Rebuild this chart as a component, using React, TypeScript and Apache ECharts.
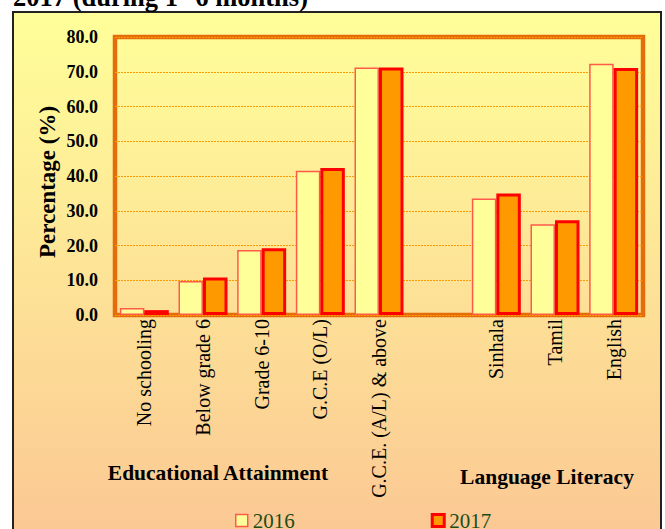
import React, { useEffect, useRef } from "react";
import * as echarts from "echarts";

const categories = [
  "No schooling",
  "Below grade 6",
  "Grade 6-10",
  "G.C.E (O/L)",
  "G.C.E. (A/L) & above",
  "",
  "Sinhala",
  "Tamil",
  "English",
];
const values2016 = [2.0, 9.8, 18.7, 41.5, 71.2, null, 33.5, 26.1, 72.3];
const values2017 = [1.4, 10.8, 19.2, 42.3, 71.2, null, 35.0, 27.3, 71.1];
const seriesNames = ["2016", "2017"];
const yTicks = { min: 0, max: 80, interval: 10 };
const titleText = "{a|2017 (during 1}{s|st}{a| 6 months)}";
const yTitle = "Percentage (%)";
const groupLabels = ["Educational Attainment", "Language Literacy"];

const SERIF = "'Liberation Serif', 'Times New Roman', serif";

export default function App() {
  const ref = useRef<HTMLDivElement>(null);
  useEffect(() => {
    if (!ref.current) return;
    const chart = echarts.init(ref.current, null, { renderer: "svg" });
    const style2016 = { color: "#FFFF99", borderColor: "#FF5A4A", borderWidth: 1.5 };
    const style2017 = { color: "#FF9900", borderColor: "#FF0000", borderWidth: 3 };
    chart.setOption({
      animation: false,
      grid: {
        left: 115,
        right: 22,
        top: 37,
        bottom: 214,
        show: true,
        borderColor: "#E46C0A",
        borderWidth: 4.5,
        backgroundColor: "transparent",
      },
      graphic: [
        {
          type: "rect",
          z: -10,
          silent: true,
          shape: { x: 13, y: 12, width: 648, height: 530 },
          style: {
            fill: new echarts.graphic.LinearGradient(0, 0, 0, 1, [
              { offset: 0, color: "#FFFF99" },
              { offset: 1, color: "#FBC794" },
            ]),
            stroke: "#222222",
            lineWidth: 2,
          },
        },
        {
          type: "text",
          x: 13,
          y: -2.8,
          style: {
            text: titleText,
            verticalAlign: "middle",
            align: "left",
            fill: "#000",
            rich: {
              a: { fontSize: 26.5, fontWeight: "bold", fontFamily: SERIF, fill: "#000" },
              s: { fontSize: 15, fontWeight: "bold", fontFamily: SERIF, fill: "#000", verticalAlign: "top" },
            },
          },
        },
        {
          type: "text",
          x: 47,
          y: 182,
          rotation: Math.PI / 2,
          style: {
            text: yTitle,
            align: "center",
            verticalAlign: "middle",
            fontSize: 23,
            fontWeight: "bold",
            fontFamily: SERIF,
            fill: "#000",
          },
        },
        {
          type: "text",
          x: 218,
          y: 473,
          style: {
            text: groupLabels[0],
            align: "center",
            verticalAlign: "middle",
            fontSize: 21.5,
            fontWeight: "bold",
            fontFamily: SERIF,
            fill: "#000",
          },
        },
        {
          type: "text",
          x: 547,
          y: 477,
          style: {
            text: groupLabels[1],
            align: "center",
            verticalAlign: "middle",
            fontSize: 21.5,
            fontWeight: "bold",
            fontFamily: SERIF,
            fill: "#000",
          },
        },
      ],
      legend: {
        left: 235,
        top: 510,
        padding: 0,
        itemGap: 136,
        itemWidth: 12,
        itemHeight: 12,
        icon: "rect",
        textStyle: { fontSize: 21, fontFamily: SERIF, color: "#1B4D1B", padding: [0, 0, 0, 0] },
        data: [
          { name: seriesNames[0], itemStyle: style2016 },
          { name: seriesNames[1], itemStyle: style2017 },
        ],
      },
      xAxis: {
        type: "category",
        data: categories,
        axisLine: { show: false },
        axisTick: { show: false },
        axisLabel: {
          interval: 0,
          rotate: 90,
          margin: 4,
          fontSize: 20,
          fontFamily: SERIF,
          color: "#000",
        },
      },
      yAxis: {
        type: "value",
        min: yTicks.min,
        max: yTicks.max,
        interval: yTicks.interval,
        axisLine: { show: false },
        axisTick: { show: false },
        axisLabel: {
          margin: 17,
          fontSize: 18,
          fontWeight: "bold",
          fontFamily: SERIF,
          color: "#000",
          formatter: (v: number) => v.toFixed(1),
        },
        splitLine: {
          show: true,
          lineStyle: { color: "#FF9900", width: 1, type: [2, 1] },
        },
      },
      series: [
        {
          name: seriesNames[0],
          type: "bar",
          data: values2016,
          barGap: "0%",
          barCategoryGap: "16.5%",
          itemStyle: style2016,
        },
        {
          name: seriesNames[1],
          type: "bar",
          data: values2017,
          barGap: "0%",
          barCategoryGap: "16.5%",
          itemStyle: style2017,
        },
      ],
    });
    return () => chart.dispose();
  }, []);
  return (
    <div
      ref={ref}
      style={{ position: "absolute", left: 0, top: 0, width: 665, height: 529 }}
    />
  );
}
